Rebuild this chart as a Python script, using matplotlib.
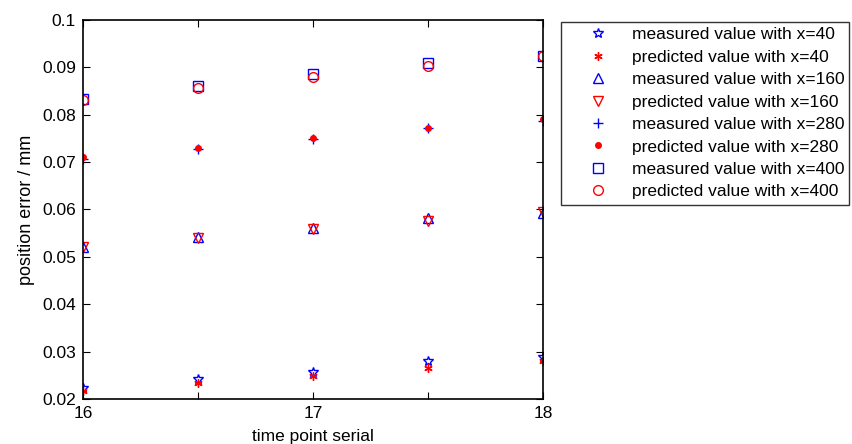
import matplotlib
matplotlib.use("Agg")
import matplotlib.pyplot as plt

plt.rcParams['font.family'] = ['Liberation Sans', 'DejaVu Sans']

t = [16, 16.5, 17, 17.5, 18]

meas_40 = [0.0223, 0.0243, 0.0258, 0.0280, 0.0289]
pred_40 = [0.0217, 0.0233, 0.0249, 0.0266, 0.0281]
meas_160 = [0.0521, 0.0542, 0.0560, 0.0581, 0.0592]
pred_160 = [0.0520, 0.0540, 0.0558, 0.0576, 0.0595]
meas_280 = [0.0706, 0.0727, 0.0749, 0.0771, 0.0787]
pred_280 = [0.0711, 0.0729, 0.0751, 0.0771, 0.0791]
meas_400 = [0.0833, 0.0860, 0.0886, 0.0910, 0.0924]
pred_400 = [0.0832, 0.0857, 0.0880, 0.0903, 0.0924]

labels = ['measured value with x=40', 'predicted value with x=40',
          'measured value with x=160', 'predicted value with x=160',
          'measured value with x=280', 'predicted value with x=280',
          'measured value with x=400', 'predicted value with x=400']

fig = plt.figure(figsize=(8.53, 4.44), dpi=100)
ax = fig.add_axes([0.0973, 0.1014, 0.5393, 0.8536])

asterisk = (6, 2, 0)
ax.plot(t, meas_40, ls='none', marker='*', ms=7, mfc='none', mec='blue', mew=1, label=labels[0])
ax.plot(t, pred_40, ls='none', marker=asterisk, ms=6, mec='red', mew=1, label=labels[1])
ax.plot(t, meas_160, ls='none', marker='^', ms=7, mfc='none', mec='blue', mew=1, label=labels[2])
ax.plot(t, pred_160, ls='none', marker='v', ms=7, mfc='none', mec='red', mew=1, label=labels[3])
ax.plot(t, meas_280, ls='none', marker='+', ms=7, mec='blue', mew=1, label=labels[4])
ax.plot(t, pred_280, ls='none', marker='.', ms=8, mfc='red', mec='red', label=labels[5])
ax.plot(t, meas_400, ls='none', marker='s', ms=7, mfc='none', mec='blue', mew=1, label=labels[6])
ax.plot(t, pred_400, ls='none', marker='o', ms=7, mfc='none', mec='red', mew=1, label=labels[7])

ax.set_xlim(16, 18)
ax.set_ylim(0.02, 0.1)
ax.set_xticks(t)
ax.set_xticklabels(['16', '', '17', '', '18'])
ax.set_yticks([0.02, 0.03, 0.04, 0.05, 0.06, 0.07, 0.08, 0.09, 0.1])
ax.set_yticklabels(['0.02', '0.03', '0.04', '0.05', '0.06', '0.07', '0.08', '0.09', '0.1'])
ax.tick_params(direction='in', top=True, right=True, labelsize=12.5, length=5, pad=5)
for s in ax.spines.values():
    s.set_linewidth(1.2)
ax.set_xlabel('time point serial', fontsize=12.5, labelpad=6)
ax.set_ylabel('position error / mm', fontsize=13, labelpad=5)

leg = ax.legend(loc='upper left', bbox_to_anchor=(0.658, 0.9505), bbox_transform=fig.transFigure,
                fontsize=12.5, frameon=True, fancybox=False, edgecolor='black',
                handlelength=3.6, handletextpad=0.15, borderpad=0.3, labelspacing=0.42,
                borderaxespad=0)
leg.get_frame().set_linewidth(1.0)

plt.savefig('out.png', dpi=100)
plt.close()
